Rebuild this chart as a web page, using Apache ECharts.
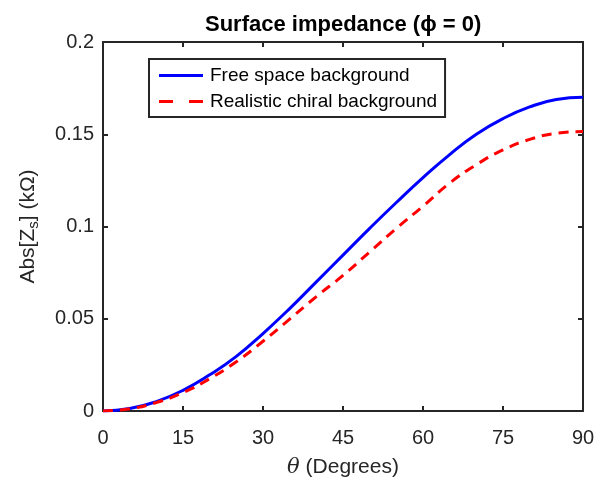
<!DOCTYPE html>
<html><head><meta charset="utf-8">
<script src="https://cdn.jsdelivr.net/npm/echarts@6/dist/echarts.min.js"></script>
<style>html,body{margin:0;padding:0;background:#fff}#c{width:602px;height:479px}</style>
</head><body><div id="c"></div>
<script>
const theta = [0,5,10,15,20,25,30,35,40,45,50,55,60,65,70,75,80,85,90];
const freeSpace = [0,0.0013,0.0051,0.0112,0.0196,0.0296,0.042,0.0555,0.0700,0.0845,0.0990,0.1130,0.1265,0.1390,0.1500,0.1585,0.1648,0.1688,0.1700];
const chiral = [0,0.0012,0.0046,0.0100,0.0175,0.0267,0.0378,0.0498,0.0620,0.0735,0.0862,0.0990,0.1110,0.1235,0.1335,0.1415,0.1472,0.1505,0.1515];
const xTicks = [0,15,30,45,60,75,90];
const yTicks = [0,0.05,0.1,0.15,0.2];

const font = 'Liberation Sans, Arial, sans-serif';
const axisCol = '#262626';
const chart = echarts.init(document.getElementById('c'));
const pairs = a => theta.map((t,i)=>[t,a[i]]);
const common = {
  axisLine:{show:true,onZero:false,lineStyle:{color:axisCol,width:2}},
  axisTick:{show:true,inside:true,length:5,lineStyle:{color:axisCol,width:2}},
  splitLine:{show:false}};
const baseX = Object.assign({type:'value',min:xTicks[0],max:xTicks[xTicks.length-1],interval:xTicks[1]-xTicks[0]},common);
const baseY = Object.assign({type:'value',min:yTicks[0],max:yTicks[yTicks.length-1],interval:yTicks[1]-yTicks[0]},common);
chart.setOption({
  animation:false,
  title:{text:'Surface impedance (\u03d5 = 0)',left:200,top:9,
    textStyle:{fontFamily:font,fontWeight:'bold',fontSize:22,color:'#000'}},
  grid:{left:103,right:19,top:42,bottom:68,containLabel:false,outerBoundsMode:'none'},
  legend:{orient:'vertical',left:149,top:59,padding:[7,8,6,10],itemGap:7,
    backgroundColor:'#fff',borderColor:axisCol,borderWidth:2,
    itemWidth:44,itemHeight:14,
    textStyle:{fontFamily:font,fontSize:19,color:'#000',padding:[0,0,0,2]},
    data:[{name:'Free space background',icon:'path://M0,6 L44,6 L44,9 L0,9 Z'},
          {name:'Realistic chiral background',icon:'path://M0,6 L14,6 L14,9 L0,9 Z M30,6 L44,6 L44,9 L30,9 Z'}]},
  xAxis:[Object.assign({},baseX,{position:'bottom',name:'{i|\u03b8} (Degrees)',nameLocation:'middle',nameGap:46,
      nameTextStyle:{fontFamily:font,fontSize:21,color:'#262626',rich:{i:{fontFamily:'DejaVu Serif, serif',fontStyle:'italic',fontSize:21,color:'#262626'}}},
      axisLabel:{fontFamily:font,fontSize:20,color:'#262626',margin:17}}),
    Object.assign({},baseX,{position:'top',axisLabel:{show:false}})],
  yAxis:[Object.assign({},baseY,{position:'left',name:'Abs[Z{s|s}] (k\u03a9)',nameLocation:'middle',nameGap:62,nameRotate:90,
      nameTextStyle:{fontFamily:font,fontSize:21,color:'#262626',rich:{s:{fontFamily:font,fontSize:15,color:'#262626',verticalAlign:'bottom',padding:[10,0,0,0]}}},
      axisLabel:{fontFamily:font,fontSize:20,color:'#262626',margin:9,formatter:v=>String(+v.toFixed(2))}}),
    Object.assign({},baseY,{position:'right',axisLabel:{show:false}})],
  series:[
    {name:'Free space background',type:'line',data:pairs(freeSpace),smooth:true,showSymbol:false,
      lineStyle:{color:'#0000ff',width:3},itemStyle:{color:'#0000ff'},z:3},
    {name:'Realistic chiral background',type:'line',data:pairs(chiral),smooth:true,showSymbol:false,
      lineStyle:{color:'#ff0000',width:3,type:[10,7]},itemStyle:{color:'#ff0000'},z:4}
  ]
});
</script></body></html>
